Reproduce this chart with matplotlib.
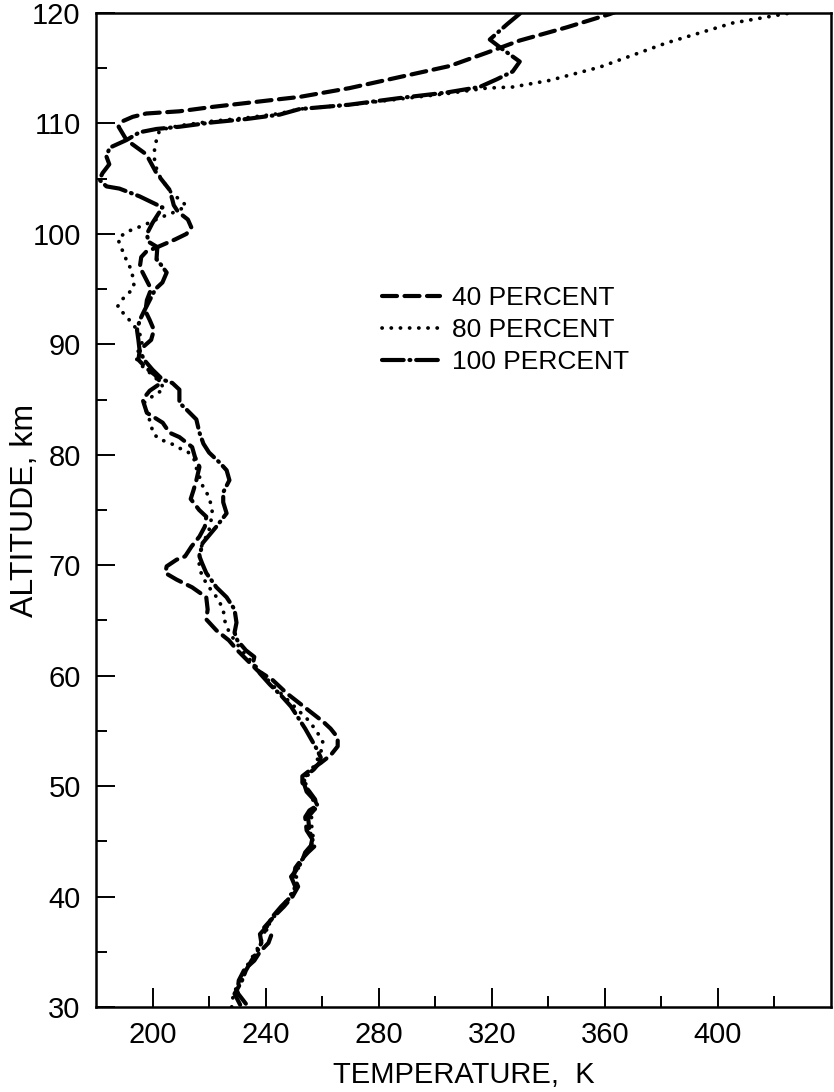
import numpy as np
import matplotlib
matplotlib.use("Agg")
import matplotlib.pyplot as plt

plt.rcParams['font.family'] = ['Liberation Sans', 'DejaVu Sans']

# ---- data (temperature K, altitude km), traced along each profile ----
t40 = [233, 230, 230.5, 232.5, 236, 238, 241, 242, 239.5, 243, 246.5, 249.5, 251.5, 250, 250.5,
       252.5, 255, 257.5, 256.5, 254.5, 254, 255.5, 258, 257.5, 255.5, 253, 253, 256, 259.5, 263,
       265.5, 265.5, 263, 260.5, 256.5, 252, 247.5, 242.5, 237, 233.5, 230, 227, 222.6, 219, 219.5,
       219, 214, 208.5, 204.5, 205, 208.5, 211.5, 213.8, 216.6, 218.5, 219, 216.5, 213.5, 214.5,
       215.5, 216.6, 215, 214, 209.5, 206, 203.6, 198, 196.5, 199, 203, 201, 198, 195, 195.5, 199.5,
       200.5, 199, 197.5, 198, 199.5, 197.5, 195.5, 196, 197.8, 201.7, 208, 212, 213.7, 212.5, 209,
       207.5, 207, 206, 201.4, 197.8, 190.8, 188, 189.4, 193, 197.8, 209.5, 221.3, 245, 252, 269.7,
       287.4, 305.1, 318.2, 329.8, 346.5, 361.7, 369]
alt40 = [30.3, 31.3, 32.4, 33.4, 34.2, 35.0, 35.8, 36.5, 37.2, 38.2, 39.1, 40.0, 40.9, 41.8, 42.6,
         43.3, 44.0, 44.6, 45.2, 46.0, 47.2, 47.8, 48.2, 48.8, 49.5, 50.3, 50.9, 51.5, 52.1, 52.8,
         53.6, 54.4, 55.2, 55.8, 56.6, 57.5, 58.4, 59.6, 60.5, 61.4, 62.3, 63.2, 64.1, 65.1, 66.0,
         67.1, 68.0, 68.7, 69.3, 69.9, 70.5, 70.8, 71.7, 72.6, 73.5, 74.4, 75.0, 76.0, 76.8,
         77.7, 78.9, 79.8, 80.7, 81.6, 82.0, 82.9, 83.8, 85.0, 85.8, 86.5, 87.2, 87.8, 88.6, 89.5, 90.4,
         91.3, 92.2, 93.0, 94.0, 95.0, 96.0, 97.0, 97.9, 98.4, 98.8, 99.5, 100.0, 100.6, 101.3, 102.0,
         102.6, 103.1, 104.0, 105.5, 107.2, 108.5, 109.7, 110.2, 110.6, 110.9, 111.1, 111.5, 112.2, 112.4, 113.2,
         114.2, 115.2, 116.4, 117.5, 118.7, 119.9, 120.6]

t80 = [228, 228.5, 230, 232, 234, 236.5, 238.5, 240, 242.5, 245.5, 248.5, 250.5, 251, 252, 254.5,
       257, 256.5, 256, 257.5, 256.5, 254, 255, 257.5, 259.5, 260.2, 258, 255, 251, 247, 243, 239.5,
       236, 232.5, 229.5, 227, 225.5, 225, 223, 220, 217.5, 216.5, 216.6, 217.7, 219, 220, 221.2,
       220.8, 220, 218, 216.6, 215.5, 214.9, 212.4, 209.5, 206, 202.4, 200, 199.6, 198, 197, 201,
       204, 203, 200, 196.5, 194.5, 194, 196, 196.5, 194, 191.8, 189.4, 187.6, 189, 191.8, 193.5,
       193, 192.5, 191, 190, 188.5, 187.8, 191, 197, 203, 208, 212, 210.6, 206.7, 204.2, 201.8,
       200.7, 200.7, 202.5, 209.5, 221, 233, 245, 252, 270, 287, 304, 318.2, 327.4, 340.5, 358.2,
       381.9, 405.3, 430]
alt80 = [30.0, 31.0, 32.0, 33.0, 34.0, 35.0, 36.0, 37.0, 38.0, 39.0, 40.0, 41.0, 42.0, 43.0, 44.0,
         45.0, 46.0, 47.0, 48.0, 49.0, 50.0, 51.0, 52.0, 53.0, 54.0, 55.0, 56.0, 57.0, 58.0, 59.0, 60.0,
         61.0, 62.0, 63.0, 64.0, 65.0, 66.0, 67.0, 68.0, 69.0, 70.0, 71.1, 72.0, 72.6, 73.2, 74.7,
         75.3, 76.2, 77.0, 78.0, 78.8, 79.5, 80.3, 80.6, 81.1, 81.4, 82.0, 82.7, 83.8, 84.7, 85.5,
         85.9, 86.5, 87.2, 88.0, 88.6, 89.0, 89.8, 90.5, 91.5, 92.2, 92.9, 93.4, 94.0, 94.7, 95.2,
         96.1, 96.8, 97.4, 98.2, 98.9, 99.6, 100.2, 100.8, 101.5, 102.0, 102.5, 102.9, 103.7, 104.6, 105.5,
         106.7, 107.9, 109.4, 109.8, 110.2, 110.5, 110.9, 111.3, 111.7, 112.2, 112.7, 113.2, 113.3, 113.9, 115.1,
         117.3, 119.1, 120.2]

t100 = [231, 229, 231.5, 233, 235, 237, 238.5, 238, 240.5, 242.5, 245.5, 249, 250.5, 249, 251.5,
        253, 254, 256, 256.5, 255.5, 255, 257, 258.5, 257, 254.5, 253.5, 254, 257, 259, 259.5, 258,
        256, 254, 251.5, 249, 245.5, 241.5, 238, 235.5, 236, 233, 230, 229, 229.7, 229, 226.2, 222.6,
        219, 217.5, 216.6, 217.7, 222.6, 226.2, 225, 225, 227.2, 226.2, 223.7, 220, 218, 216.6, 215.5,
        212, 209.5, 209.5, 207, 203.6, 200, 197, 195.4, 195, 194.5, 195.5, 197, 199, 201, 203.5, 205,
        203, 201.4, 201.7, 198.5, 198, 200, 203.5, 195.4, 188.3, 183.7, 181.2, 182.3, 184.7, 183.7, 184.8,
        190.8, 195.4, 201.4, 209.5, 221.3, 233.2, 245, 252, 269.7, 287.4, 304, 315.7, 321.8, 327.4, 329.9,
        323.9, 319.3, 325.5, 333]
alt100 = [30.2, 31.2, 32.3, 33.3, 34.2, 35.0, 35.8, 36.6, 37.3, 38.2, 39.1, 40.0, 40.9, 41.8, 42.6,
          43.3, 44.0, 44.6, 45.2, 46.0, 47.2, 47.8, 48.2, 48.8, 49.5, 50.3, 50.9, 51.5, 52.1, 52.6, 53.4,
          54.3, 55.2, 56.2, 57.2, 58.2, 59.2, 60.2, 61.1, 61.7, 62.3, 63.2, 63.9, 64.8, 66.0, 67.1, 68.0,
          69.3, 70.2, 70.8, 72.0, 73.5, 74.7, 75.7, 76.6, 77.7, 78.6, 79.3, 80.2, 81.0, 82.0, 83.2,
          84.1, 84.7, 85.9, 86.5, 86.8, 87.7, 88.6, 89.5, 90.4, 91.3, 92.2, 93.0, 94.0, 95.0, 95.6, 96.5,
          97.2, 97.7, 98.8, 99.3, 100.0, 101.0, 102.4, 103.4, 104.1, 104.3, 104.9, 105.5, 106.3, 107.0, 107.8,
          108.5, 109.2, 109.5, 109.7, 110.1, 110.4, 110.8, 111.3, 111.7, 112.3, 112.8, 113.3, 114.0, 114.7, 115.6,
          116.7, 117.6, 119.0, 120.6]

labels = ["40 PERCENT", "80 PERCENT", "100 PERCENT"]
x_ticks = [200, 240, 280, 320, 360, 400]
y_ticks = [30, 40, 50, 60, 70, 80, 90, 100, 110, 120]

fig = plt.figure(figsize=(8.34, 10.92), dpi=100)
ax = fig.add_axes([96 / 834, 1 - 1007 / 1092, 735 / 834, 994 / 1092])

lw = 3.0
l1, = ax.plot(t40, alt40, color='black', lw=lw, linestyle=(0, (3.6, 1.8)),
              dash_capstyle='round', solid_capstyle='round', solid_joinstyle='round')
l2, = ax.plot(t80, alt80, color='black', lw=lw * 0.9, linestyle=(0, (0.05, 2.4)),
              dash_capstyle='round')
l3, = ax.plot(t100, alt100, color='black', lw=lw, linestyle=(0, (5.2, 1.4, 0.2, 1.4)),
              dash_capstyle='round', solid_joinstyle='round')

ax.set_xlim(180, 440)
ax.set_ylim(30, 120)

ax.set_xticks(x_ticks)
ax.set_xticks([220, 260, 300, 340, 380, 420], minor=True)
ax.set_yticks(y_ticks)
ax.set_yticks([35, 45, 55, 65, 75, 85, 95, 105, 115], minor=True)

ax.tick_params(axis='both', which='major', direction='in', length=14, width=1.4,
               labelsize=21, top=False, right=False)
ax.tick_params(axis='both', which='minor', direction='in', length=8, width=1.4,
               top=False, right=False)
ax.tick_params(axis='y', which='major', pad=11)
ax.tick_params(axis='x', which='major', pad=10)

for s in ax.spines.values():
    s.set_linewidth(1.8)

ax.set_xlabel("TEMPERATURE,  K", fontsize=21, labelpad=9)
ax.set_ylabel("ALTITUDE, km", fontsize=23, va='center')
ax.yaxis.set_label_coords(-0.096, 0.5)

leg = ax.legend([l1, l2, l3], labels, loc='upper left', bbox_to_anchor=(0.389, 0.725),
                frameon=False, fontsize=19, handlelength=2.2, handletextpad=0.45,
                labelspacing=0.3, borderpad=0, borderaxespad=0)

fig.savefig("out.png", dpi=100)
